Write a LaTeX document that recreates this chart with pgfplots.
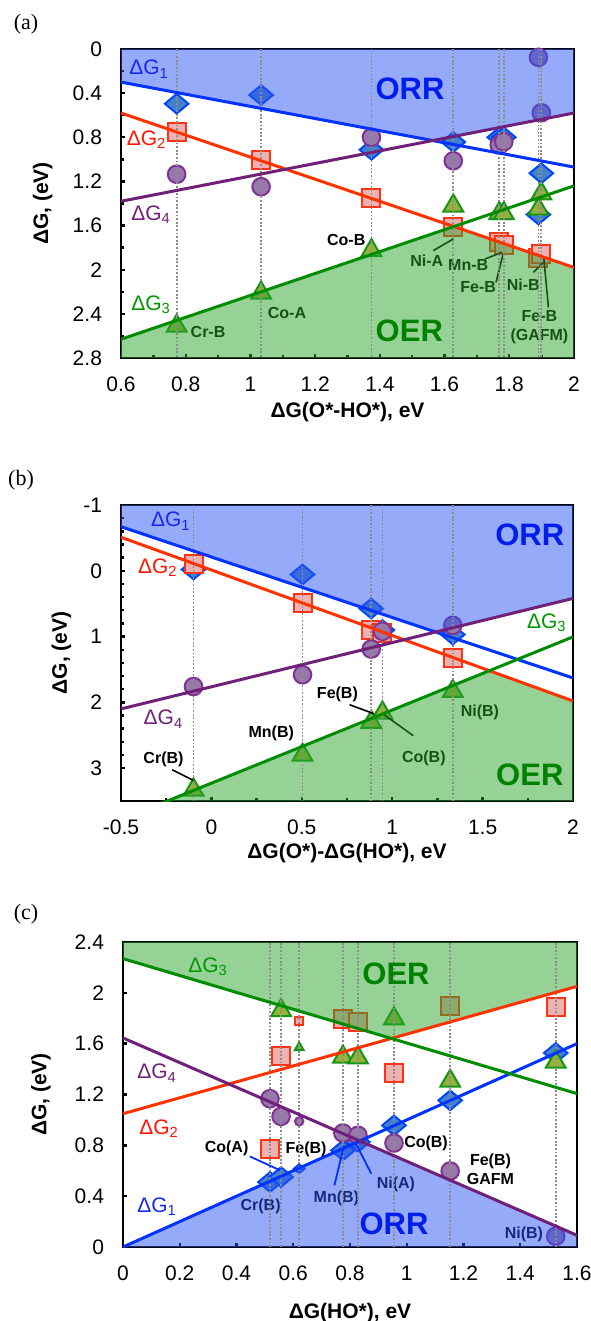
\documentclass[border=0pt]{standalone}
\usepackage{fontspec}
\setmainfont{Liberation Sans}
\newfontfamily\seriffont{Liberation Serif}
\usepackage{pgfplots}
\pgfplotsset{compat=1.18}
\definecolor{lblue}{RGB}{0,51,255}
\definecolor{lred}{RGB}{255,51,0}
\definecolor{lpurple}{RGB}{112,32,120}
\definecolor{lgreen}{RGB}{0,140,0}
\definecolor{tblue}{RGB}{20,40,240}
\definecolor{tred}{RGB}{255,20,0}
\definecolor{tgreen}{RGB}{0,150,0}
\definecolor{dfill}{RGB}{70,130,200}
\definecolor{dedge}{RGB}{0,70,255}
\definecolor{sfill}{RGB}{238,178,178}
\definecolor{sedge}{RGB}{255,50,20}
\definecolor{cfill}{RGB}{150,120,170}
\definecolor{cedge}{RGB}{130,50,150}
\definecolor{tfill}{RGB}{150,178,60}
\definecolor{tedge}{RGB}{20,150,20}
\definecolor{orrfill}{RGB}{45,85,245}
\definecolor{oerfill}{RGB}{45,165,45}
\definecolor{orrtext}{RGB}{0,30,235}
\definecolor{oertext}{RGB}{0,130,0}
\definecolor{vgray}{RGB}{140,140,140}
\newcommand\ann{\fontsize{8}{9.6}\selectfont\bfseries}
\newcommand\dgl{\fontsize{10.5}{12}\selectfont}
\newcommand\bigreg{\fontsize{15.5}{17}\selectfont\bfseries}
\pgfplotsset{
  panel/.style={
    set layers=standard, clip marker paths=true,
    scale only axis, anchor=north west,
    axis line style={line width=1.4pt, black},
    tick align=inside, xtick pos=bottom, ytick pos=left,
    major tick length=2pt, minor tick length=1.6pt,
    tick style={black, line width=1.2pt},
    tick label style={font=\fontsize{10.5}{12}\selectfont},
    xticklabel style={yshift=-6pt},
    yticklabel style={xshift=-6pt},
    /pgf/number format/assume math mode=true,
    label style={font=\fontsize{10.5}{12}\selectfont\bfseries},
  },
  mD/.style={only marks, on layer=pre main, mark=diamond*, mark size=4.9pt, mark options={xscale=1.6, fill=dfill, draw=dedge, line width=1pt}},
  mS/.style={only marks, on layer=pre main, mark=square*, mark size=4.5pt, mark options={fill=sfill, draw=sedge, line width=1pt}},
  mC/.style={only marks, on layer=pre main, mark=*, mark size=4.4pt, mark options={fill=cfill, draw=cedge, line width=1pt}},
  mT/.style={only marks, on layer=pre main, mark=triangle*, mark size=5.7pt, mark options={fill=tfill, draw=tedge, line width=1pt}},
  vd/.style={color=vgray, line width=0.9pt, dash pattern=on 0.9pt off 0.9pt},
  orr/.style={fill=orrfill, fill opacity=0.5, draw=none},
  oer/.style={fill=oerfill, fill opacity=0.5, draw=none},
  gl/.style={line width=1.5pt},
}
\begin{document}
\begin{tikzpicture}
\node[font=\seriffont\fontsize{11}{13}\selectfont] at (13pt,-12pt) {(a)};
\node[font=\seriffont\fontsize{11}{13}\selectfont] at (10.5pt,-240pt) {(b)};
\node[font=\seriffont\fontsize{11}{13}\selectfont] at (13pt,-457pt) {(c)};

%================ (a)
\begin{axis}[panel, at={(60.5pt,-24.5pt)}, width=226.5pt, height=154.5pt,
  xmin=0.6, xmax=2, ymin=0, ymax=2.8, y dir=reverse,
  xtick={0.6,0.8,1,1.2,1.4,1.6,1.8,2}, ytick={0,0.4,0.8,1.2,1.6,2,2.4,2.8},
  minor tick num=1,
  xlabel={ΔG(O*-HO*), eV}, ylabel={ΔG, (eV)},
  xlabel style={at={(axis description cs:0.5,-0.175)}, anchor=center},
  ylabel style={at={(axis description cs:-0.173,0.5)}, anchor=center},
]
\addplot[mD] coordinates {(0.772,0.496) (1.033,0.417) (1.374,0.913) (1.627,0.843) (1.769,0.80) (1.783,0.80) (1.890,1.50) (1.899,1.126)};
\addplot[mC] coordinates {(0.772,1.135) (1.033,1.248) (1.374,0.80) (1.627,1.013) (1.769,0.87) (1.783,0.84) (1.890,0.075) (1.899,0.578)};
\addplot[mS] coordinates {(0.772,0.752) (1.033,1.01) (1.374,1.354) (1.627,1.613) (1.769,1.75) (1.783,1.78) (1.890,1.89) (1.899,1.86)};
\addplot[mT] coordinates {(0.772,2.51) (1.033,2.21) (1.374,1.826) (1.627,1.421) (1.769,1.49) (1.783,1.49) (1.890,1.45) (1.899,1.31)};
\begin{pgfonlayer}{pre main}
\node[font=\ann] at (axis cs:0.869,2.565) {Cr-B};
\node[font=\ann] at (axis cs:1.113,2.389) {Co-A};
\node[font=\ann] at (axis cs:1.296,1.735) {Co-B};
\node[font=\ann] at (axis cs:1.545,1.918) {Ni-A};
\draw[line width=0.8pt] (axis cs:1.565,1.827) -- (axis cs:1.627,1.721);
\node[font=\ann] at (axis cs:1.673,1.957) {Mn-B};
\draw[line width=0.8pt] (axis cs:1.725,1.903) -- (axis cs:1.777,1.843);
\node[font=\ann] at (axis cs:1.704,2.161) {Fe-B};
\draw[line width=0.8pt] (axis cs:1.759,2.115) -- (axis cs:1.781,1.857);
\node[font=\ann] at (axis cs:1.843,2.139) {Ni-B};
\draw[line width=0.8pt] (axis cs:1.874,2.025) -- (axis cs:1.905,1.934);
\node[font=\ann, align=center] at (axis cs:1.893,2.517) {Fe-B\\(GAFM)};
\draw[line width=0.8pt] (axis cs:1.907,1.903) -- (axis cs:1.921,2.343);
\end{pgfonlayer}
\addplot[orr] coordinates {(0.6,0) (0.6,0.30) (1.563,0.830) (2,0.58) (2,0)} -- cycle;
\addplot[oer] coordinates {(0.6,2.8) (0.6,2.63) (1.6286,1.6086) (2,1.98) (2,2.8)} -- cycle;
\addplot[vd] coordinates {(0.772,0) (0.772,2.8)};
\addplot[vd] coordinates {(1.033,0) (1.033,2.8)};
\addplot[vd] coordinates {(1.374,0) (1.374,2.8)};
\addplot[vd] coordinates {(1.627,0) (1.627,2.8)};
\addplot[vd] coordinates {(1.769,0) (1.769,2.8)};
\addplot[vd] coordinates {(1.783,0) (1.783,2.8)};
\addplot[vd] coordinates {(1.890,0) (1.890,2.8)};
\addplot[vd] coordinates {(1.899,0) (1.899,2.8)};
\addplot[gl, lblue] coordinates {(0.6,0.30) (2,1.07)};
\addplot[gl, lred] coordinates {(0.6,0.58) (2,1.98)};
\addplot[gl, lpurple] coordinates {(0.6,1.38) (2,0.58)};
\addplot[gl, lgreen] coordinates {(0.6,2.63) (2,1.24)};
\node[font=\dgl, text=tblue] at (axis cs:0.687,0.183) {ΔG\textsubscript{1}};
\node[font=\dgl, text=tred] at (axis cs:0.679,0.822) {ΔG\textsubscript{2}};
\node[font=\dgl, text=lpurple] at (axis cs:0.693,1.50) {ΔG\textsubscript{4}};
\node[font=\dgl, text=tgreen] at (axis cs:0.693,2.32) {ΔG\textsubscript{3}};
\node[font=\bigreg, text=orrtext] at (axis cs:1.493,0.365) {ORR};
\node[font=\bigreg, text=oertext] at (axis cs:1.491,2.556) {OER};
\end{axis}

%================ (b)
\begin{axis}[panel, at={(60.5pt,-252.5pt)}, width=226pt, height=148pt,
  xmin=-0.5, xmax=2, ymin=-1, ymax=3.5, y dir=reverse,
  xtick={-0.5,0,0.5,1,1.5,2}, ytick={-1,0,1,2,3},
  minor x tick num=1, minor y tick num=4,
  xlabel={ΔG(O*)-ΔG(HO*), eV}, ylabel={ΔG, (eV)},
  xlabel style={at={(axis description cs:0.5,-0.175)}, anchor=center},
  ylabel style={at={(axis description cs:-0.132,0.5)}, anchor=center},
]
\addplot[mD] coordinates {(-0.099,-0.02) (0.504,0.056) (0.884,0.574) (0.946,0.90) (1.335,0.97)};
\addplot[mS] coordinates {(-0.099,-0.097) (0.504,0.497) (0.884,0.893) (0.946,0.95) (1.335,1.325)};
\addplot[mC] coordinates {(-0.099,1.76) (0.504,1.58) (0.884,1.19) (0.946,0.92) (1.335,0.83)};
\addplot[mT] coordinates {(-0.099,3.33) (0.504,2.80) (0.884,2.30) (0.946,2.16) (1.335,1.83)};
\begin{pgfonlayer}{pre main}
\node[font=\ann] at (axis cs:-0.265,2.873) {Cr(B)};
\draw[line width=0.8pt] (axis cs:-0.217,3.025) -- (axis cs:-0.099,3.188);
\node[font=\ann] at (axis cs:0.331,2.477) {Mn(B)};
\node[font=\ann] at (axis cs:0.697,1.883) {Fe(B)};
\draw[line width=0.8pt] (axis cs:0.764,2.036) -- (axis cs:0.899,2.173);
\node[font=\ann] at (axis cs:1.175,2.848) {Co(B)};
\draw[line width=0.8pt] (axis cs:1.117,2.508) -- (axis cs:0.955,2.188);
\node[font=\ann] at (axis cs:1.485,2.152) {Ni(B)};
\end{pgfonlayer}
\addplot[orr] coordinates {(-0.5,-1) (-0.5,-0.67) (1.24,0.931) (2,0.42) (2,-1)} -- cycle;
\addplot[oer] coordinates {(-0.244,3.5) (1.5335,1.5235) (2,1.98) (2,3.5)} -- cycle;
\addplot[vd] coordinates {(-0.099,-1) (-0.099,3.5)};
\addplot[vd] coordinates {(0.504,-1) (0.504,3.5)};
\addplot[vd] coordinates {(0.884,-1) (0.884,3.5)};
\addplot[vd] coordinates {(0.946,-1) (0.946,3.5)};
\addplot[vd] coordinates {(1.335,-1) (1.335,3.5)};
\addplot[gl, lblue] coordinates {(-0.5,-0.67) (2,1.63)};
\addplot[gl, lred] coordinates {(-0.5,-0.51) (2,1.98)};
\addplot[gl, lpurple] coordinates {(-0.5,2.10) (2,0.42)};
\addplot[gl, lgreen] coordinates {(-0.5,3.785) (2,1.005)};
\node[font=\dgl, text=tblue] at (axis cs:-0.224,-0.756) {ΔG\textsubscript{1}};
\node[font=\dgl, text=tred] at (axis cs:-0.296,-0.046) {ΔG\textsubscript{2}};
\node[font=\dgl, text=lpurple] at (axis cs:-0.265,2.254) {ΔG\textsubscript{4}};
\node[font=\dgl, text=tgreen] at (axis cs:1.855,0.792) {ΔG\textsubscript{3}};
\node[font=\bigreg, text=orrtext] at (axis cs:1.761,-0.553) {ORR};
\node[font=\bigreg, text=oertext] at (axis cs:1.761,3.10) {OER};
\end{axis}

%================ (c)
\begin{axis}[panel, at={(61.5pt,-471pt)}, width=227pt, height=152.5pt,
  xmin=0, xmax=1.6, ymin=0, ymax=2.4,
  xtick={0,0.2,0.4,0.6,0.8,1,1.2,1.4,1.6}, ytick={0,0.4,0.8,1.2,1.6,2,2.4},
  xlabel={ΔG(HO*), eV}, ylabel={ΔG, (eV)},
  xlabel style={at={(axis description cs:0.5,-0.218)}, anchor=center},
  ylabel style={at={(axis description cs:-0.181,0.5)}, anchor=center},
]
\addplot[mD] coordinates {(0.518,0.511) (0.557,0.551) (0.775,0.76) (0.828,0.826) (0.955,0.957) (1.153,1.154) (1.525,1.527)};
\addplot[mD, mark size=2.2pt] coordinates {(0.621,0.616)};
\addplot[mS] coordinates {(0.518,0.774) (0.557,1.50) (0.775,1.797) (0.828,1.77) (0.955,1.372) (1.153,1.896) (1.525,1.889)};
\addplot[mS, mark size=2pt] coordinates {(0.621,1.776)};
\addplot[mC] coordinates {(0.518,1.167) (0.557,1.028) (0.775,0.897) (0.828,0.879) (0.955,0.818) (1.153,0.598) (1.525,0.084)};
\addplot[mC, mark size=2.1pt] coordinates {(0.621,0.989)};
\addplot[mT] coordinates {(0.557,1.862) (0.775,1.495) (0.828,1.49) (0.955,1.797) (1.153,1.306) (1.525,1.456)};
\addplot[mT, mark size=2.6pt] coordinates {(0.621,1.569)};
\begin{pgfonlayer}{pre main}
\node[font=\ann] at (axis cs:0.365,0.774) {Co(A)};
\node[font=\ann] at (axis cs:0.645,0.766) {Fe(B)};
\node[font=\ann] at (axis cs:0.485,0.32) {Cr(B)};
\node[font=\ann] at (axis cs:0.752,0.38) {Mn(B)};
\node[font=\ann] at (axis cs:0.962,0.493) {Ni(A)};
\node[font=\ann] at (axis cs:1.068,0.813) {Co(B)};
\node[font=\ann, align=center] at (axis cs:1.295,0.614) {Fe(B)\\GAFM};
\node[font=\ann] at (axis cs:1.413,0.10) {Ni(B)};
\end{pgfonlayer}
\addplot[oer] coordinates {(0,2.4) (0,2.269) (0.9457,1.641) (1.6,2.051) (1.6,2.4)} -- cycle;
\addplot[orr] coordinates {(0,0) (0.8348,0.8348) (1.6,0.092) (1.6,0)} -- cycle;
\addplot[vd] coordinates {(0.518,0) (0.518,2.4)};
\addplot[vd] coordinates {(0.557,0) (0.557,2.4)};
\addplot[vd] coordinates {(0.621,0) (0.621,2.4)};
\addplot[vd] coordinates {(0.775,0) (0.775,2.4)};
\addplot[vd] coordinates {(0.828,0) (0.828,2.4)};
\addplot[vd] coordinates {(0.955,0) (0.955,2.4)};
\addplot[vd] coordinates {(1.153,0) (1.153,2.4)};
\addplot[vd] coordinates {(1.525,0) (1.525,2.4)};
\addplot[gl, lblue] coordinates {(0,0) (1.6,1.6)};
\addplot[gl, lred] coordinates {(0,1.049) (1.6,2.051)};
\addplot[gl, lgreen] coordinates {(0,2.269) (1.6,1.207)};
\addplot[gl, lpurple] coordinates {(0,1.645) (1.6,0.092)};
\draw[lblue, line width=0.9pt] (axis cs:0.447,0.713) -- (axis cs:0.554,0.603);
\draw[lblue, line width=0.9pt] (axis cs:0.745,0.485) -- (axis cs:0.779,0.80);
\draw[lblue, line width=0.9pt] (axis cs:0.875,0.577) -- (axis cs:0.821,0.813);
\node[font=\dgl, text=tgreen] at (axis cs:0.30,2.203) {ΔG\textsubscript{3}};
\node[font=\dgl, text=lpurple] at (axis cs:0.12,1.369) {ΔG\textsubscript{4}};
\node[font=\dgl, text=tred] at (axis cs:0.127,0.931) {ΔG\textsubscript{2}};
\node[font=\dgl, text=tblue] at (axis cs:0.12,0.315) {ΔG\textsubscript{1}};
\node[font=\bigreg, text=oertext] at (axis cs:0.962,2.151) {OER};
\node[font=\bigreg, text=orrtext] at (axis cs:0.955,0.184) {ORR};
\end{axis}
\pgfresetboundingbox
\useasboundingbox (0,0) rectangle (295pt,-660.5pt);
\end{tikzpicture}
\end{document}
